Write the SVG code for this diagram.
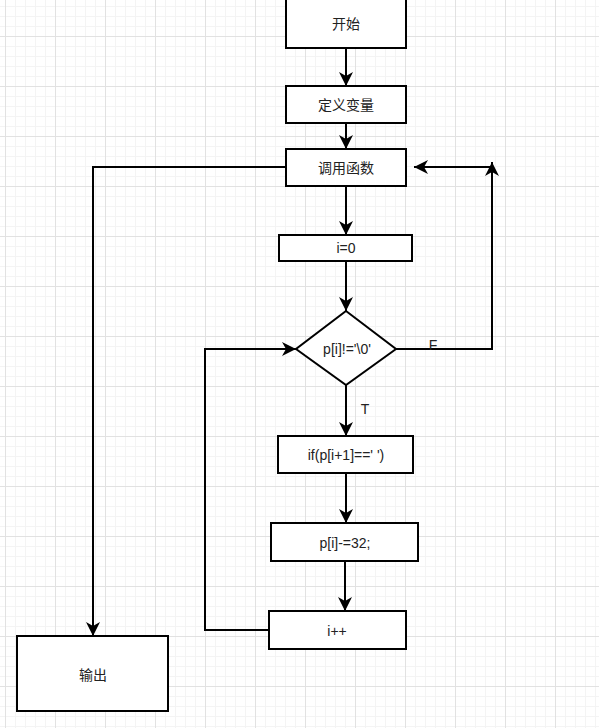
<svg xmlns="http://www.w3.org/2000/svg" width="599" height="728" viewBox="0 0 599 728">
<style>
.box{fill:#fff;stroke:#000;stroke-width:2}
.t{font-family:"Liberation Sans","Noto Sans CJK SC",sans-serif;font-size:14px;fill:#222;text-anchor:middle;dominant-baseline:central}
.e{fill:none;stroke:#000;stroke-width:2}
</style>
<defs>
<pattern id="grid" x="5" y="36" width="50" height="50" patternUnits="userSpaceOnUse">
<path d="M0.5,0V50M10.5,0V50M20.5,0V50M30.5,0V50M40.5,0V50M0,0.5H50M0,10.5H50M0,20.5H50M0,30.5H50M0,40.5H50" stroke="#f4f4f4" stroke-width="1" fill="none"/>
<path d="M0.5,0V50M0,0.5H50" stroke="#e2e2e2" stroke-width="1" fill="none"/>
</pattern>
<marker id="a" markerUnits="userSpaceOnUse" markerWidth="16" markerHeight="16" refX="14" refY="7" orient="auto" overflow="visible">
<path d="M0,0L14,7L0,14L4,7Z" fill="#000"/>
</marker>
</defs>
<rect width="599" height="728" fill="#fff"/>
<rect width="599" height="728" fill="url(#grid)"/>
<g id="connectors">
<path class="e" d="M346,48V86" marker-end="url(#a)"/>
<path class="e" d="M346,123V149" marker-end="url(#a)"/>
<path class="e" d="M286,167H93V636" marker-end="url(#a)"/>
<path class="e" d="M346,186V235" marker-end="url(#a)"/>
<path class="e" d="M346,261V311" marker-end="url(#a)"/>
<path class="e" d="M396,349H492V162" marker-end="url(#a)"/>
<path class="e" d="M492,167H414" marker-end="url(#a)"/>
<path class="e" d="M346,385V436" marker-end="url(#a)"/>
<path class="e" d="M346,473V523" marker-end="url(#a)"/>
<path class="e" d="M345,561V611" marker-end="url(#a)"/>
<path class="e" d="M269,630H205V349H296" marker-end="url(#a)"/>
<text class="t" x="433" y="345">F</text>
<text class="t" x="365" y="409">T</text>
</g>
<g id="start"><rect class="box" x="286" y="-10" width="120" height="58"/><text class="t" x="346" y="24">开始</text></g>
<g id="define"><rect class="box" x="286" y="86" width="120" height="37"/><text class="t" x="346" y="105">定义变量</text></g>
<g id="call"><rect class="box" x="286" y="149" width="120" height="37"/><text class="t" x="346" y="168">调用函数</text></g>
<g id="init"><rect class="box" x="279" y="235" width="133" height="26"/><text class="t" x="346" y="248">i=0</text></g>
<g id="cond"><path class="box" d="M346,311L396,349L346,385L296,349Z"/><text class="t" x="347" y="349">p[i]!='\0'</text></g>
<g id="if"><rect class="box" x="278" y="436" width="135" height="37"/><text class="t" x="346" y="455">if(p[i+1]==' ')</text></g>
<g id="sub"><rect class="box" x="271" y="523" width="147" height="38"/><text class="t" x="345" y="543">p[i]-=32;</text></g>
<g id="inc"><rect class="box" x="269" y="611" width="137" height="38"/><text class="t" x="337" y="631">i++</text></g>
<g id="output"><rect class="box" x="17" y="636" width="151" height="75"/><text class="t" x="93" y="675">输出</text></g>
</svg>
